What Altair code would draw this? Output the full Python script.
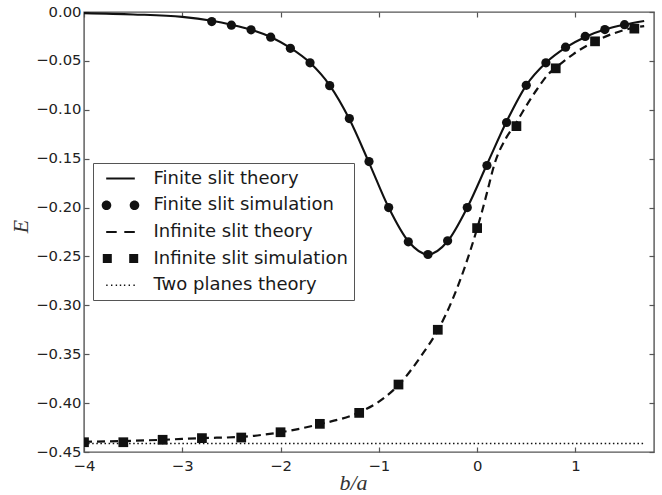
import altair as alt
import pandas as pd

# ---------------- data ----------------
fin_th_x = [-4.0, -3.5, -3.0, -2.7, -2.5, -2.3, -2.1, -1.9, -1.7, -1.5, -1.3, -1.1, -0.9, -0.7,
            -0.5, -0.3, -0.1, 0.1, 0.3, 0.5, 0.7, 0.9, 1.1, 1.3, 1.5, 1.7]
fin_th_y = [-0.0012, -0.0025, -0.0050, -0.0090, -0.0130, -0.0180, -0.0255, -0.0368, -0.0520,
            -0.0750, -0.1095, -0.1540, -0.2000, -0.2345, -0.2480, -0.2345, -0.2000, -0.1560,
            -0.1120, -0.0750, -0.0520, -0.0365, -0.0255, -0.0180, -0.0130, -0.0092]

fin_sim_x = [-2.7, -2.5, -2.3, -2.1, -1.9, -1.7, -1.5, -1.3, -1.1, -0.9, -0.7, -0.5,
             -0.3, -0.1, 0.1, 0.3, 0.5, 0.7, 0.9, 1.1, 1.3, 1.5]
fin_sim_y = [-0.0098, -0.0135, -0.0182, -0.0258, -0.0371, -0.0520, -0.0753, -0.1090, -0.1530,
             -0.2000, -0.2350, -0.2480, -0.2340, -0.2000, -0.1570, -0.1130, -0.0750, -0.0520,
             -0.0360, -0.0250, -0.0180, -0.0130]

inf_th_x = [-4.0, -3.6, -3.2, -2.8, -2.4, -2.0, -1.6, -1.2, -0.95, -0.8, -0.55, -0.4, -0.25,
            0.0, 0.05, 0.1, 0.18, 0.3, 0.4, 0.47, 0.61, 0.74, 0.8, 0.98, 1.2, 1.4, 1.6, 1.7]
inf_th_y = [-0.4395, -0.4388, -0.4375, -0.4358, -0.4345, -0.4298, -0.4215, -0.4095, -0.3950,
            -0.3815, -0.3490, -0.3255, -0.2940, -0.2215, -0.2040, -0.1850, -0.1545, -0.1280,
            -0.1130, -0.1010, -0.0790, -0.0620, -0.0570, -0.0430, -0.0300, -0.0215, -0.0160,
            -0.0145]

inf_sim_x = [-4.0, -3.6, -3.2, -2.8, -2.4, -2.0, -1.6, -1.2, -0.8, -0.4, 0.0, 0.4, 0.8, 1.2, 1.6]
inf_sim_y = [-0.4400, -0.4400, -0.4375, -0.4358, -0.4352, -0.4298, -0.4212, -0.4100, -0.3810,
             -0.3250, -0.2210, -0.1167, -0.0576, -0.0300, -0.0170]

planes_x = [-4.0, 1.7]
planes_y = [-0.4414, -0.4414]

x_ticks = [-4, -3, -2, -1, 0, 1]
y_ticks = [0.0, -0.05, -0.10, -0.15, -0.20, -0.25, -0.30, -0.35, -0.40, -0.45]

series_names = ["Finite slit theory", "Finite slit simulation", "Infinite slit theory",
                "Infinite slit simulation", "Two planes theory"]

# legend sample glyphs (unit square paths)
legend_paths = [
    "M-1.43,-0.1H1.43V0.1H-1.43Z",
    "M-0.92,0A0.48,0.48 0 1,1 -1.88,0A0.48,0.48 0 1,1 -0.92,0Z"
    "M1.88,0A0.48,0.48 0 1,1 0.92,0A0.48,0.48 0 1,1 1.88,0Z",
    "M-1.43,-0.1H-0.38V0.1H-1.43Z M0.38,-0.1H1.43V0.1H0.38Z",
    "M-1.77,-0.45H-0.87V0.45H-1.77Z M0.87,-0.45H1.77V0.45H0.87Z",
    "M-1.43,-0.07h0.14v0.14h-0.14Z M-0.95,-0.07h0.14v0.14h-0.14Z M-0.48,-0.07h0.14v0.14h-0.14Z"
    "M-0.07,-0.07h0.14v0.14h-0.14Z M0.34,-0.07h0.14v0.14h-0.14Z M0.81,-0.07h0.14v0.14h-0.14Z"
    "M1.29,-0.07h0.14v0.14h-0.14Z",
]

INK = "#111111"
FRAME = "#555555"
LABEL_FONT = "DejaVu Sans"

fin_th = pd.DataFrame({"x": fin_th_x, "y": fin_th_y})
fin_sim = pd.DataFrame({"x": fin_sim_x, "y": fin_sim_y})
inf_th = pd.DataFrame({"x": inf_th_x, "y": inf_th_y})
inf_sim = pd.DataFrame({"x": inf_sim_x, "y": inf_sim_y})
planes = pd.DataFrame({"x": planes_x, "y": planes_y})
legend_df = pd.DataFrame({"series": series_names})

xs = alt.Scale(domain=[-4, 1.8], nice=False, zero=False)
ys = alt.Scale(domain=[-0.45, 0.0], nice=False, zero=False)

common_axis = dict(grid=False, domain=False, offset=-5, tickSize=5, tickColor=FRAME,
                   tickWidth=1.2, labelFont=LABEL_FONT, labelFontSize=14.8,
                   labelColor="#222222")

x_bottom = alt.Axis(values=x_ticks, format="d", orient="bottom", labelPadding=6,
                    title="b/a", titleFont="Liberation Serif", titleFontStyle="italic",
                    titleFontWeight="normal", titleFontSize=22, titleColor="#333333",
                    titleX=269, titleY=42, titleBaseline="alphabetic", titleAlign="center",
                    labelFlush=False, **common_axis)
y_left = alt.Axis(values=y_ticks, format=".2f", orient="left", labelPadding=3,
                  title="E", titleFont="Liberation Serif", titleFontStyle="italic",
                  titleFontWeight="normal", titleFontSize=22, titleColor="#333333",
                  titleX=-62, titleY=214, titleBaseline="alphabetic", titleAngle=270,
                  titleAlign="center", **common_axis)
x_top = alt.Axis(values=x_ticks, orient="top", labels=False, title=None, **common_axis)
y_right = alt.Axis(values=y_ticks, orient="right", labels=False, title=None, **common_axis)

fin_line = alt.Chart(fin_th).mark_line(color=INK, strokeWidth=2.1, interpolate="monotone",
                                       clip=True).encode(
    x=alt.X("x:Q", scale=xs, axis=x_bottom),
    y=alt.Y("y:Q", scale=ys, axis=y_left),
)

planes_line = alt.Chart(planes).mark_line(color=INK, strokeWidth=1.5, strokeDash=[1.5, 2.6],
                                          clip=True).encode(
    x=alt.X("x:Q", scale=xs, axis=x_top),
    y=alt.Y("y:Q", scale=ys, axis=y_right),
)

inf_line = alt.Chart(inf_th).mark_line(color=INK, strokeWidth=2.2, strokeDash=[8, 5],
                                       interpolate="monotone", clip=True).encode(
    x=alt.X("x:Q", scale=xs, axis=None),
    y=alt.Y("y:Q", scale=ys, axis=None),
)

inf_pts = alt.Chart(inf_sim).mark_point(shape="square", filled=True, color=INK, opacity=1,
                                        size=95, clip=True).encode(
    x=alt.X("x:Q", scale=xs, axis=None),
    y=alt.Y("y:Q", scale=ys, axis=None),
)

fin_pts = alt.Chart(fin_sim).mark_point(shape="circle", filled=True, color=INK, opacity=1,
                                        size=85, clip=True).encode(
    x=alt.X("x:Q", scale=xs, axis=None),
    y=alt.Y("y:Q", scale=ys, axis=None),
)

legend_layer = alt.Chart(legend_df).mark_point(filled=True, color=INK).encode(
    x=alt.value(0),
    y=alt.value(0),
    opacity=alt.value(0),
    shape=alt.Shape(
        "series:N",
        scale=alt.Scale(domain=series_names, range=legend_paths),
        sort=series_names,
        legend=alt.Legend(
            title=None, orient="none", legendX=9, legendY=151, padding=5.5,
            rowPadding=7.7, symbolSize=400, symbolStrokeWidth=0, symbolFillColor=INK,
            symbolOpacity=1, symbolOffset=12, labelOffset=23, labelFont=LABEL_FONT,
            labelFontSize=18, labelColor="#1a1a1a", strokeColor=FRAME, fillColor="white",
            labelLimit=400,
        ),
    ),
)

chart = alt.layer(
    fin_line, planes_line, inf_line, inf_pts, fin_pts, legend_layer
).resolve_axis(x="independent", y="independent").properties(
    width=570,
    height=440,
    autosize=alt.AutoSizeParams(type="none"),
    padding={"left": 84, "top": 12, "right": 8, "bottom": 43},
    background="white",
).configure_view(stroke=FRAME, strokeWidth=1.4)

chart.save("out.html", embed_options={"renderer": "svg", "actions": False})
